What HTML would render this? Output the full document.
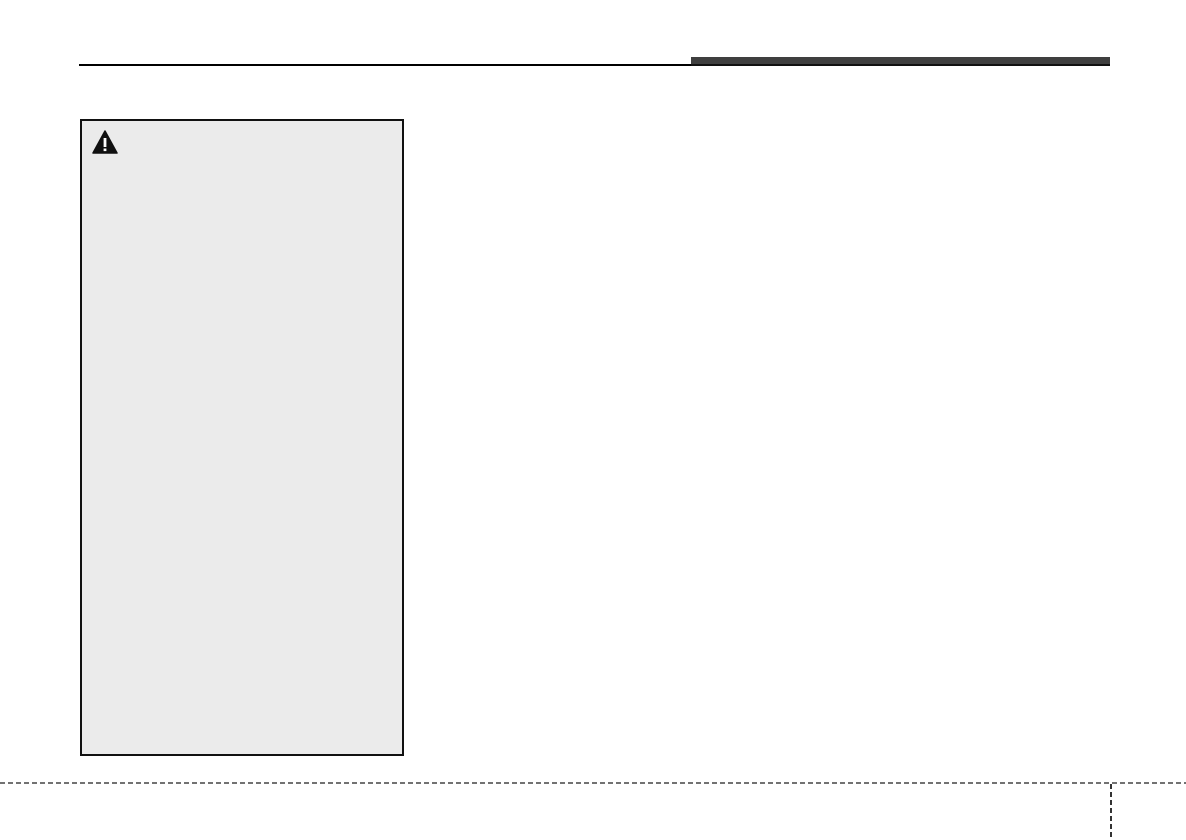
<!DOCTYPE html>
<html><head><meta charset="utf-8"><style>
html,body{margin:0;padding:0;background:#fff;}
body{width:1186px;height:840px;position:relative;overflow:hidden;font-family:"Liberation Sans",sans-serif;}
.a{position:absolute;}
</style></head><body>
<div class="a" style="left:79px;top:64px;width:612px;height:2px;background:#000"></div>
<div class="a" style="left:691px;top:57px;width:419px;height:9px;background:#3f3f3f"></div>
<div class="a" style="left:691px;top:64px;width:419px;height:2px;background:#111"></div>
<div class="a" style="left:80px;top:119px;width:320px;height:633px;background:#ebebeb;border:2px solid #111"></div>
<svg class="a" style="left:92px;top:130px" width="26" height="24" viewBox="0 0 26 24">
<path d="M13 1 L25 23 L1 23 Z" fill="#111" stroke="#111" stroke-linejoin="round" stroke-width="1.5"/>
<rect x="11.6" y="8" width="2.8" height="9" fill="#fff"/>
<rect x="11.6" y="18.5" width="2.8" height="2.6" fill="#fff"/>
</svg>
<svg class="a" style="left:0;top:0" width="1186" height="840">
<line x1="0" y1="783" x2="1186" y2="783" stroke="#444" stroke-width="1.5" stroke-dasharray="5,3"/>
<line x1="1111" y1="784" x2="1111" y2="840" stroke="#333" stroke-width="2" stroke-dasharray="5,3"/>
</svg>
</body></html>
